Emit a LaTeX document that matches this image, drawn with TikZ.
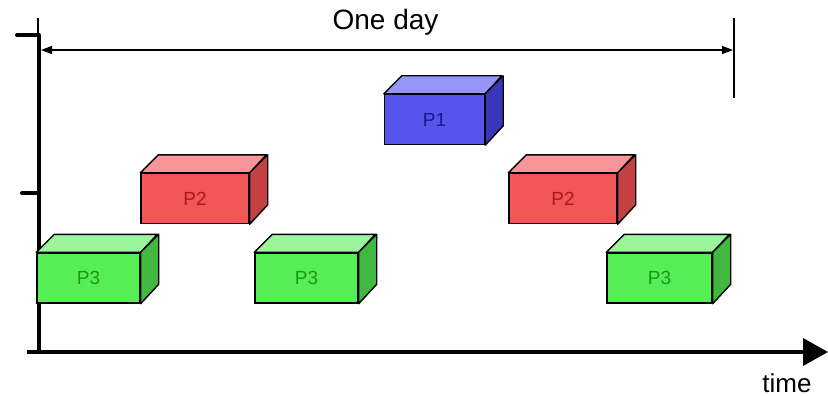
\documentclass[tikz,border=0pt]{standalone}
\usepackage{fontspec}
\setmainfont{Liberation Sans}
\usetikzlibrary{arrows.meta}
\begin{document}
\begin{tikzpicture}[x=1pt,y=-1pt,
  front/.style={draw=black, line width=1.4pt, minimum width=#1, minimum height=50pt,
    inner sep=0pt, font=\fontsize{19}{19}\selectfont},
  face/.style={draw=black, line width=1.4pt, line join=round},
  axis/.style={line width=4pt},
  dim/.style={line width=1.4pt}]
\useasboundingbox (0,0) rectangle (828,396);

% colour sets: front, top, side, label
\colorlet{bluef}{rgb,255:red,85;green,85;blue,238}
\colorlet{bluet}{rgb,255:red,150;green,150;blue,250}
\colorlet{blues}{rgb,255:red,55;green,55;blue,185}
\colorlet{bluel}{rgb,255:red,25;green,25;blue,140}
\colorlet{redf}{rgb,255:red,242;green,85;blue,85}
\colorlet{redt}{rgb,255:red,247;green,150;blue,150}
\colorlet{reds}{rgb,255:red,195;green,65;blue,65}
\colorlet{redl}{rgb,255:red,165;green,25;blue,25}
\colorlet{greenf}{rgb,255:red,85;green,238;blue,85}
\colorlet{greent}{rgb,255:red,155;green,245;blue,155}
\colorlet{greens}{rgb,255:red,65;green,185;blue,65}
\colorlet{greenl}{rgb,255:red,30;green,150;blue,30}

% cuboid: name, centre x, centre y, width, label, colour prefix
\newcommand\cuboid[6]{%
  \node[front=#4, fill=#6f, text=#6l] (#1) at (#2,#3) {#5};
  \draw[face, fill=#6t] (#1.north west) -- ++(18,-18) -- ++(#4,0)
     -- (#1.north east) -- cycle;
  \draw[face, fill=#6s] (#1.north east) -- ++(18,-18) -- ++(0,50)
     -- (#1.south east) -- cycle;
}

% axes
\coordinate (origin) at (39,352);
\coordinate (ytop) at (39,35);
\coordinate (xend) at (828,352);
\draw[axis] (27,352) -- (origin) -- (ytop);
\draw[axis, -{Triangle[length=25pt,width=27pt]}] (origin) -- (xend);
\draw[axis, line cap=round] (ytop) -- (17,35);
\draw[axis, line cap=round] (39,193) -- (22,193);
\node[font=\fontsize{26}{26}\selectfont, anchor=base] (timelbl) at (787,392) {time};

% one-day span
\coordinate (dstart) at (38,18);
\coordinate (dend) at (734,18);
\draw[line width=1.2pt] (dstart) -- (38,35);
\draw[dim] (dend) -- (734,98);
\draw[dim, {Triangle[length=11pt,width=8pt]}-{Triangle[length=11pt,width=8pt]}]
  (41,50) -- (733,50);
\node[font=\fontsize{28}{28}\selectfont, anchor=base] (daylbl) at (385.5,30) {One day};

% processes
\cuboid{p1}{434.5}{119.5}{100}{P1}{blue}
\cuboid{p2a}{195}{198.5}{108}{P2}{red}
\cuboid{p2b}{563}{198.5}{108}{P2}{red}
\cuboid{p3a}{88.5}{278}{103}{P3}{green}
\cuboid{p3b}{306.5}{278}{103}{P3}{green}
\cuboid{p3c}{659.5}{278}{105}{P3}{green}
\end{tikzpicture}
\end{document}
